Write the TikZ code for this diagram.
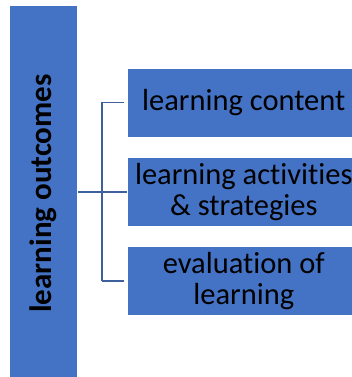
\documentclass[tikz,border=0pt]{standalone}
\usepackage{fontspec}
\setmainfont[Ligatures=NoCommon]{Carlito}
\definecolor{boxblue}{RGB}{68,114,196}
\definecolor{lineblue}{RGB}{62,96,156}
\begin{document}
\begin{tikzpicture}[x=1pt,y=-1pt,
  bar/.style={fill=boxblue,draw=white,line width=0.6pt},
  item/.style={fill=boxblue,draw=white,line width=0.6pt,minimum width=233pt,minimum height=69pt,inner sep=0pt,anchor=west,align=center,font=\fontsize{30.5}{31}\selectfont},
  conn/.style={draw=lineblue,line width=1.8pt}]
\useasboundingbox (0,0) rectangle (352,377);
\node[bar,minimum width=68pt,minimum height=380pt,inner sep=0pt,anchor=north west] (lo) at (9,5) {};
\node[rotate=90,font=\fontsize{31}{32}\selectfont\bfseries] (lot) at (43.5,193.5) {learning outcomes};
\node[item] (c) at (127,102.5) {learning content};
\node[item] (a) at (127,192) {learning activities\\\& strategies};
\node[item] (e) at (127,281) {evaluation of\\learning};
\coordinate (j) at (102,192.3);
\draw[conn] (lo.east |- j) -- (a.west |- j);
\draw[conn] (j |- c.west) -- (j |- e.west);
\draw[conn] (j |- c.west) -- ([xshift=-3pt]c.west);
\draw[conn] (j |- e.west) -- ([xshift=-3pt]e.west);
\end{tikzpicture}
\end{document}
